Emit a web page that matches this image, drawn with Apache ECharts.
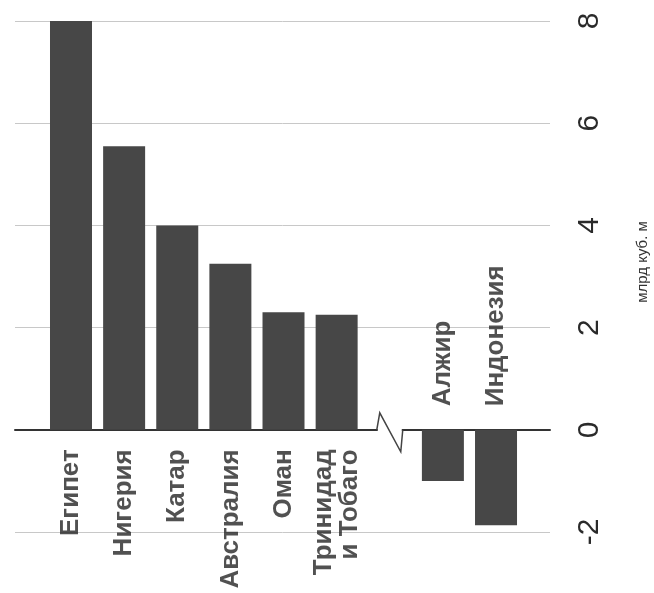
<!DOCTYPE html>
<html>
<head>
<meta charset="utf-8">
<script src="https://cdn.jsdelivr.net/npm/echarts@6/dist/echarts.min.js"></script>
<style>html,body{margin:0;padding:0;background:#fff;}#c{width:654px;height:593px;}</style>
</head>
<body>
<div id="c"></div>
<script>
// Categories (empty slot marks the axis break)
const categories = ['Египет', 'Нигерия', 'Катар', 'Австралия', 'Оман', 'Тринидад\nи Тобаго', '', 'Алжир', 'Индонезия'];
// Values, bln cubic metres
const values = [8.0, 5.55, 4.0, 3.25, 2.3, 2.25, null, -1.0, -1.87];
// Value axis ticks
const yTicks = [-2, 0, 2, 4, 6, 8];
const unitLabel = 'млрд куб. м';

const FONT = 'Liberation Sans, Arial, sans-serif';
const chart = echarts.init(document.getElementById('c'), null, {renderer: 'canvas'});

const barData = [];
const labelData = [];
categories.forEach((c, i) => {
  if (values[i] === null) return;
  barData.push([i, values[i]]);
  const pos = values[i] >= 0;
  labelData.push({
    name: c,
    value: [i, 0],
    label: {
      position: pos ? 'bottom' : 'top',
      distance: pos ? 19 : 23,
      align: pos ? 'right' : 'left'
    }
  });
});

chart.setOption({
  backgroundColor: '#ffffff',
  animation: false,
  grid: {left: 15, right: 104, top: 21, bottom: 61, containLabel: false},
  xAxis: {
    type: 'value',
    min: -1.054,
    max: 9.016,
    axisLine: {show: true, onZero: true, lineStyle: {color: '#333333', width: 2}},
    axisTick: {show: false},
    axisLabel: {show: false},
    splitLine: {show: false}
  },
  yAxis: {
    type: 'value',
    position: 'right',
    min: yTicks[0],
    max: yTicks[yTicks.length - 1],
    interval: 2,
    axisLine: {show: false},
    axisTick: {show: false},
    splitLine: {show: true, lineStyle: {color: '#c8c8c8', width: 1}},
    axisLabel: {rotate: 90, fontSize: 30, color: '#2a2a2a', margin: 25, fontFamily: FONT}
  },
  series: [
    {
      type: 'bar',
      data: barData,
      barWidth: 42,
      itemStyle: {color: '#474747'},
      z: 2
    },
    {
      type: 'scatter',
      data: labelData,
      symbolSize: 1,
      itemStyle: {color: 'rgba(0,0,0,0)'},
      label: {
        show: true,
        formatter: '{b}',
        rotate: 90,
        verticalAlign: 'middle',
        fontSize: 26,
        fontWeight: 'bold',
        lineHeight: 26,
        color: '#262626',
        fontFamily: FONT
      },
      z: 3
    }
  ]
});

// Axis break mark at the empty slot + unit label
const gapIndex = categories.indexOf('');
const p = chart.convertToPixel({gridIndex: 0}, [gapIndex, 0]);
const cx = p[0], cy = p[1];
chart.setOption({
  graphic: [
    {type: 'rect', shape: {x: cx - 12, y: cy - 3, width: 24, height: 6}, style: {fill: '#ffffff'}, z: 10},
    {type: 'polyline', shape: {points: [[cx - 13, cy], [cx - 10, cy - 17], [cx + 11, cy + 22], [cx + 13, cy]]},
     style: {stroke: '#444444', lineWidth: 1.5, fill: null}, z: 11},
    {type: 'text', x: 643, y: 262, rotation: Math.PI / 2,
     style: {text: unitLabel, fontSize: 15, fill: '#333333', align: 'center', verticalAlign: 'middle', fontFamily: FONT}, z: 11}
  ]
});
</script>
</body>
</html>
